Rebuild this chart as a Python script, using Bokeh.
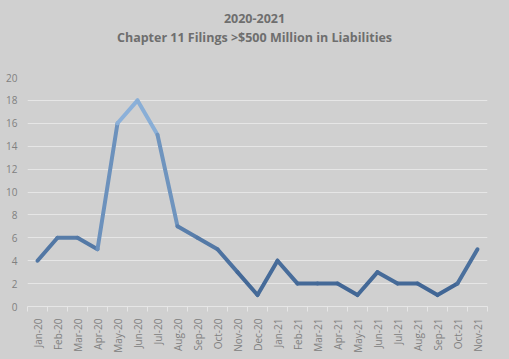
from bokeh.plotting import figure
from bokeh.models import FixedTicker, Range1d, Div, ColumnDataSource
from bokeh.layouts import column
from bokeh.embed import file_html
from bokeh.resources import INLINE
import math

months = ["Jan-20", "Feb-20", "Mar-20", "Apr-20", "May-20", "Jun-20", "Jul-20", "Aug-20",
          "Sep-20", "Oct-20", "Nov-20", "Dec-20", "Jan-21", "Feb-21", "Mar-21", "Apr-21",
          "May-21", "Jun-21", "Jul-21", "Aug-21", "Sep-21", "Oct-21", "Nov-21"]
filings = [4, 6, 6, 5, 16, 18, 15, 7, 6, 5, 3, 1, 4, 2, 2, 2, 1, 3, 2, 2, 1, 2, 5]
title_lines = ["2020-2021", "Chapter 11 Filings >$500 Million in Liabilities"]

BG = "#d0d0d0"
FONT = "Open Sans"

inner = ('<div style="width:509px;text-align:center;font-family:\'%s\';font-weight:bold;'
         'font-size:12.5px;line-height:19px;color:#6e6e6e;padding-top:9px;margin:0;">%s</div>'
         % (FONT, "<br>".join(title_lines)))
title = Div(text=inner, width=509, height=60, margin=0, disable_math=True,
            styles={"background-color": BG})

p = figure(width=509, height=299, output_backend="svg", toolbar_location=None,
           x_range=Range1d(-0.5, len(months) - 0.5), y_range=Range1d(0, 20), margin=0)
p.background_fill_color = BG
p.border_fill_color = BG
p.outline_line_color = None
p.min_border_left = 27
p.min_border_right = 22
p.min_border_top = 17
p.min_border_bottom = 53

# colour each segment by its height (light at the peak, dark near zero)
def col(v):
    lo = (0x3a, 0x5f, 0x8e)
    hi = (0x90, 0xb5, 0xdd)
    t = max(0.0, min(1.0, v / 18.0))
    c = tuple(int(round(lo[k] + (hi[k] - lo[k]) * t)) for k in range(3))
    return "#%02x%02x%02x" % c

xs = list(range(len(months)))
src = ColumnDataSource(dict(
    x0=xs[:-1], x1=xs[1:], y0=filings[:-1], y1=filings[1:],
    c=[col((a + b) / 2) for a, b in zip(filings[:-1], filings[1:])]))
p.segment("x0", "y0", "x1", "y1", source=src, line_color="c", line_width=4,
          line_cap="round")

p.xgrid.grid_line_color = None
p.ygrid.grid_line_color = "#e6e6e6"
p.ygrid.grid_line_width = 1

p.yaxis.ticker = FixedTicker(ticks=list(range(0, 21, 2)))
p.yaxis.axis_line_color = None
p.yaxis.major_tick_line_color = None
p.yaxis.minor_tick_line_color = None
p.yaxis.major_tick_out = 0
p.yaxis.minor_tick_out = 0
p.yaxis.major_label_text_font = FONT
p.yaxis.major_label_text_font_size = "10px"
p.yaxis.major_label_text_color = "#808080"
p.yaxis.major_label_standoff = 10

p.xaxis.ticker = FixedTicker(ticks=xs, minor_ticks=[i - 0.5 for i in range(len(months) + 1)])
p.xaxis.major_label_overrides = {i: m for i, m in enumerate(months)}
p.xaxis.major_label_orientation = math.pi / 2
p.xaxis.axis_line_color = "#e6e6e6"
p.xaxis.major_tick_line_color = None
p.xaxis.major_tick_out = 0
p.xaxis.minor_tick_line_color = "#e6e6e6"
p.xaxis.minor_tick_out = 5
p.xaxis.minor_tick_in = 0
p.xaxis.major_label_text_font = FONT
p.xaxis.major_label_text_font_size = "10px"
p.xaxis.major_label_text_color = "#808080"
p.xaxis.major_label_standoff = 7

layout = column(title, p, spacing=0, margin=0)

html = file_html(layout, INLINE)
html = html.replace("</head>", "<style>body{background:%s;}</style></head>" % BG, 1)
open("out.html", "w").write(html)
